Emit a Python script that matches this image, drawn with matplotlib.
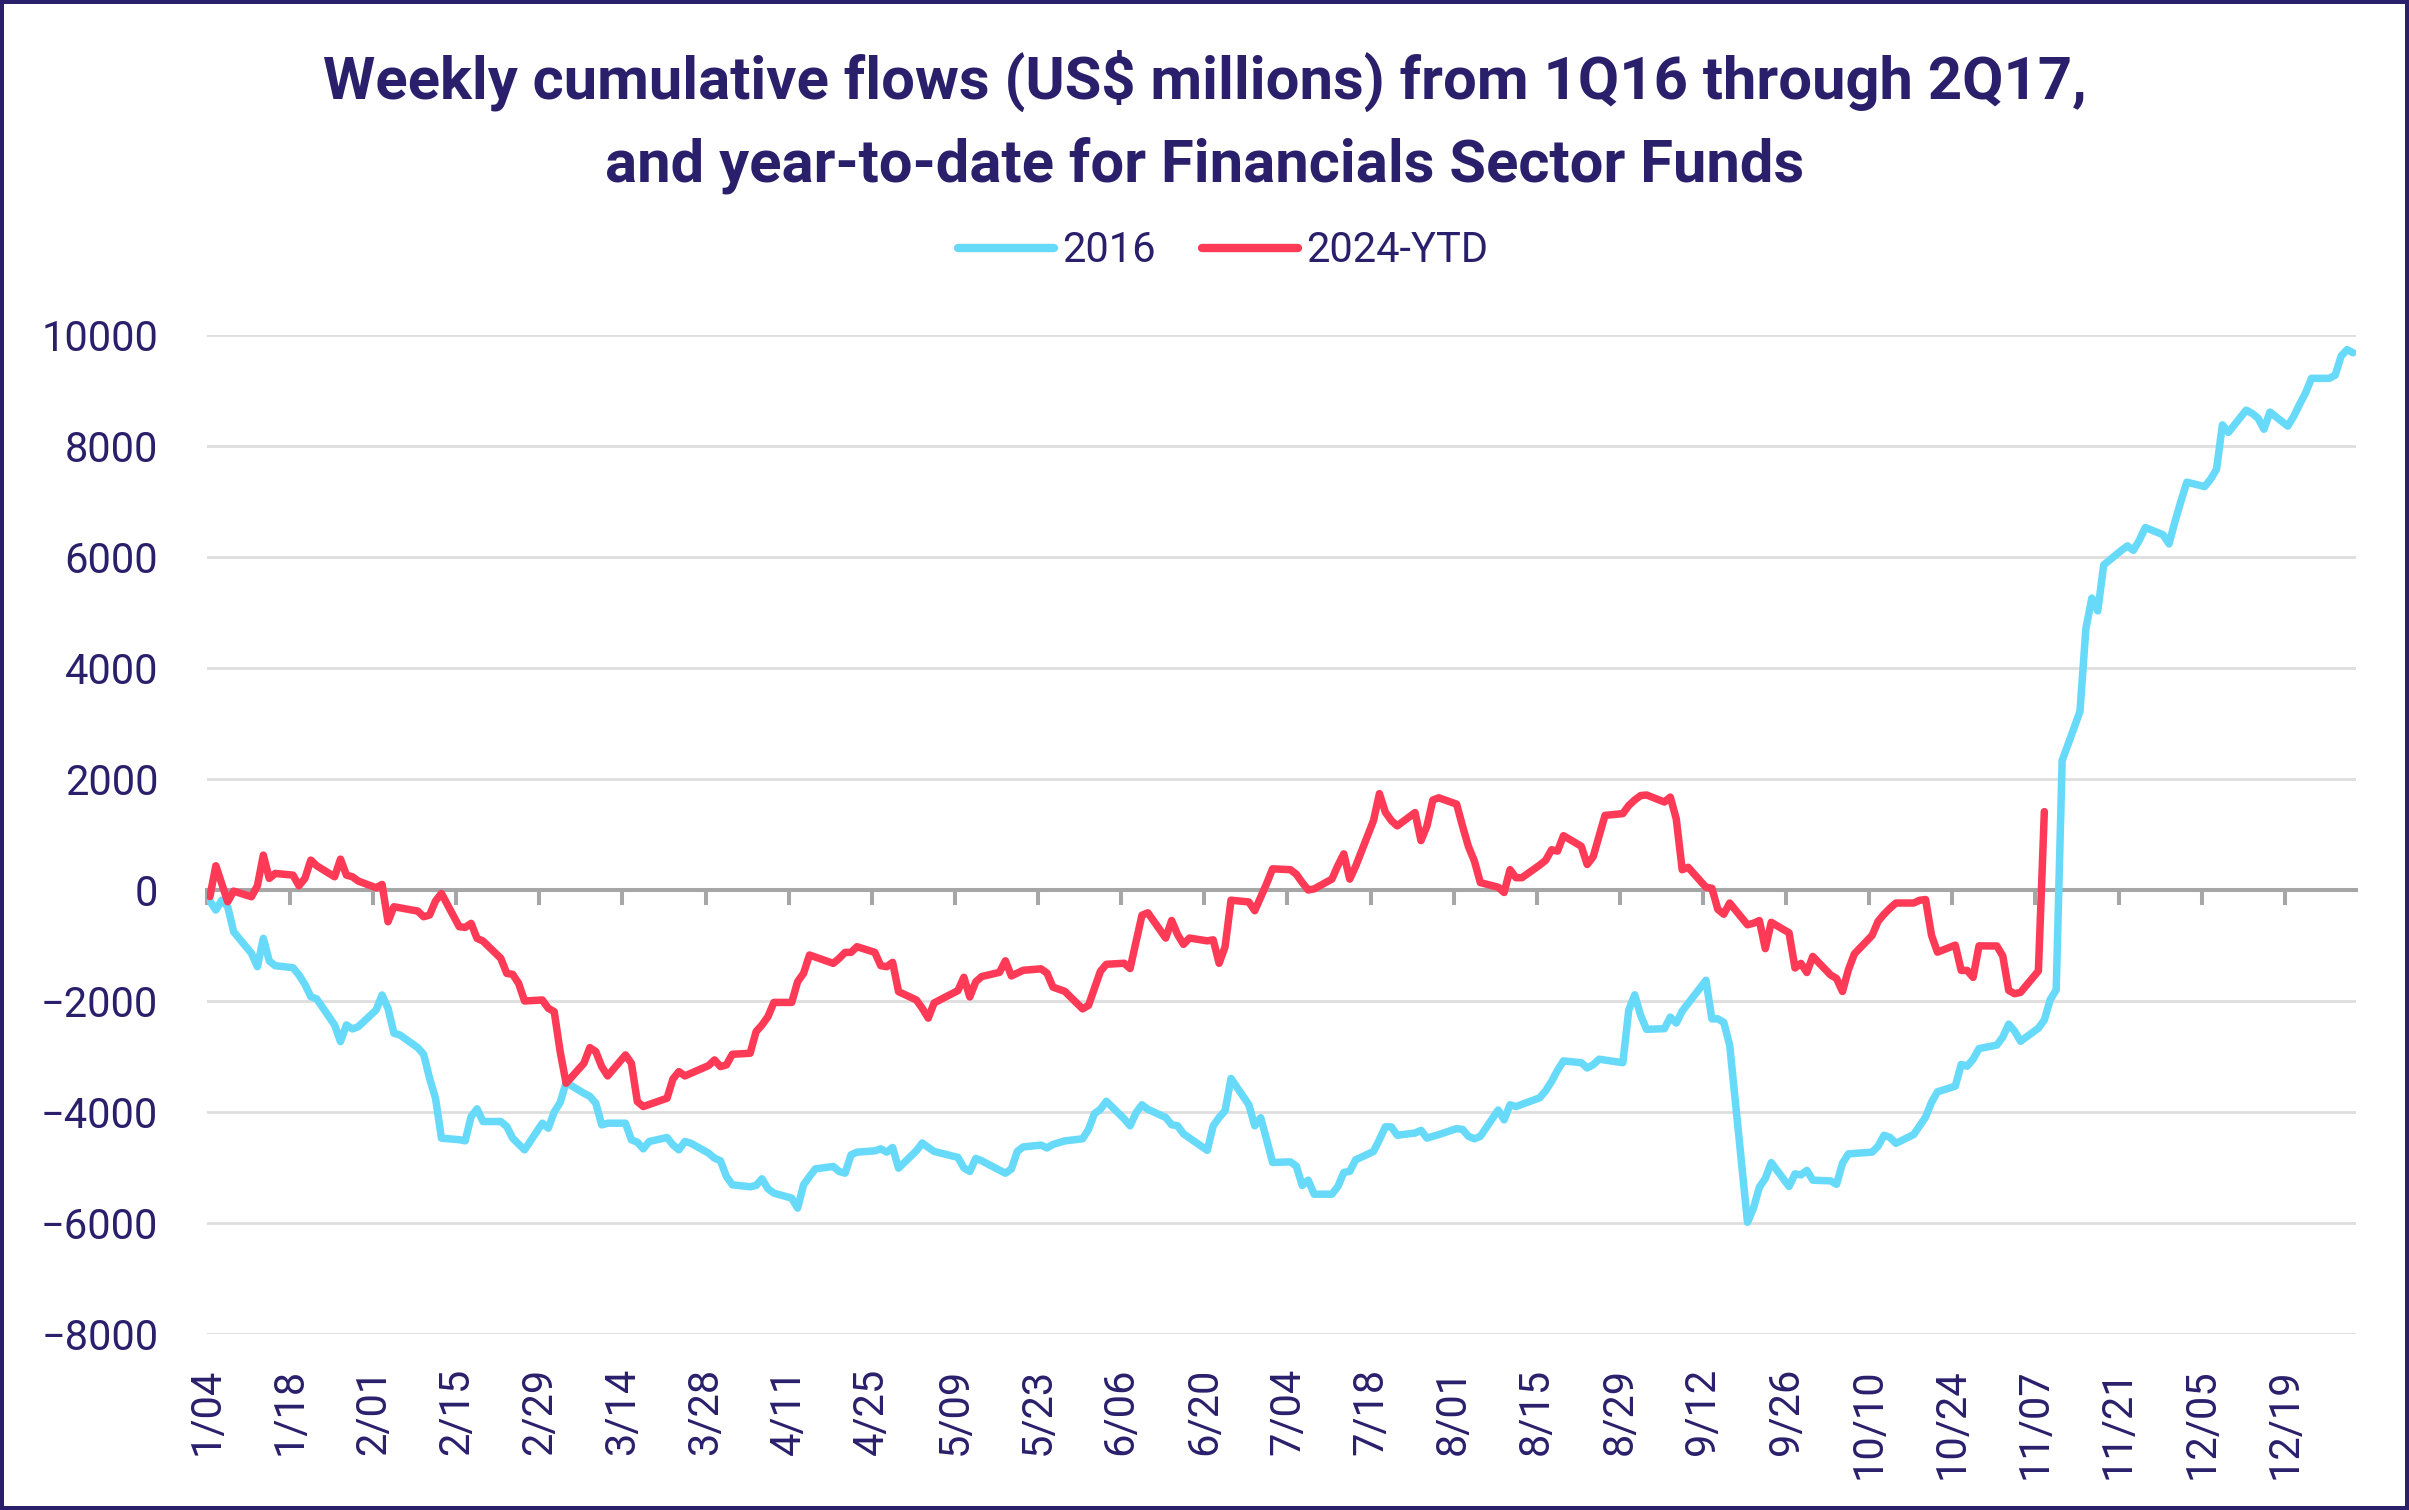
import matplotlib
matplotlib.use("Agg")
import matplotlib.pyplot as plt
import pandas as pd

plt.rcParams["font.family"] = ["Roboto", "DejaVu Sans"]

NAVY = "#2A1F6B"
BLUE = "#67DAF9"
RED = "#FF3A56"
AXIS_GREY = "#A6A6A6"
GRID_GREY = "#DEDEDE"

# === Data ===
tick_labels = ["1/04", "1/18", "2/01", "2/15", "2/29", "3/14", "3/28", "4/11", "4/25",
               "5/09", "5/23", "6/06", "6/20", "7/04", "7/18", "8/01", "8/15", "8/29",
               "9/12", "9/26", "10/10", "10/24", "11/07", "11/21", "12/05", "12/19"]
y_ticks = [-8000, -6000, -4000, -2000, 0, 2000, 4000, 6000, 8000, 10000]

# 2016 (one line per month)
dates_2016 = [
    "1/04", "1/05", "1/06", "1/07", "1/08", "1/11", "1/12", "1/13", "1/14", "1/15", "1/18", "1/19", "1/20", "1/21", "1/22", "1/25", "1/26", "1/27", "1/28", "1/29",
    "2/01", "2/02", "2/03", "2/04", "2/05", "2/08", "2/09", "2/10", "2/11", "2/12", "2/15", "2/16", "2/17", "2/18", "2/19", "2/22", "2/23", "2/24", "2/25", "2/26", "2/29",
    "3/01", "3/02", "3/03", "3/04", "3/07", "3/08", "3/09", "3/10", "3/11", "3/14", "3/15", "3/16", "3/17", "3/18", "3/21", "3/22", "3/23", "3/24", "3/25", "3/28", "3/29", "3/30", "3/31",
    "4/01", "4/04", "4/05", "4/06", "4/07", "4/08", "4/11", "4/12", "4/13", "4/14", "4/15", "4/18", "4/19", "4/20", "4/21", "4/22", "4/25", "4/26", "4/27", "4/28", "4/29",
    "5/02", "5/03", "5/04", "5/05", "5/09", "5/10", "5/11", "5/12", "5/13", "5/16", "5/17", "5/18", "5/19", "5/20", "5/23", "5/24", "5/25", "5/27", "5/30", "5/31",
    "6/01", "6/02", "6/03", "6/06", "6/07", "6/08", "6/09", "6/10", "6/13", "6/14", "6/15", "6/16", "6/20", "6/21", "6/22", "6/23", "6/24", "6/27", "6/28", "6/29", "6/30",
    "7/01", "7/04", "7/05", "7/06", "7/07", "7/08", "7/11", "7/12", "7/13", "7/14", "7/15", "7/18", "7/19", "7/20", "7/21", "7/22", "7/25", "7/26", "7/27", "7/28", "7/29",
    "8/01", "8/02", "8/03", "8/04", "8/05", "8/08", "8/09", "8/10", "8/11", "8/15", "8/16", "8/17", "8/18", "8/19", "8/22", "8/23", "8/24", "8/25", "8/29", "8/30", "8/31",
    "9/01", "9/02", "9/05", "9/06", "9/07", "9/08", "9/12", "9/13", "9/14", "9/15", "9/16", "9/19", "9/20", "9/21", "9/22", "9/23", "9/26", "9/27", "9/28", "9/29", "9/30",
    "10/03", "10/04", "10/05", "10/06", "10/10", "10/11", "10/12", "10/13", "10/14", "10/17", "10/18", "10/19", "10/20", "10/21", "10/24", "10/25", "10/26", "10/27", "10/28", "10/31",
    "11/01", "11/02", "11/03", "11/04", "11/07", "11/08", "11/09", "11/10", "11/11", "11/14", "11/15", "11/16", "11/17", "11/18", "11/21", "11/22", "11/23", "11/24", "11/25", "11/28", "11/29", "11/30",
    "12/01", "12/02", "12/05", "12/06", "12/07", "12/08", "12/09", "12/12", "12/13", "12/14", "12/15", "12/16", "12/19", "12/20", "12/21", "12/22", "12/23", "12/26", "12/27", "12/28", "12/29", "12/30",
]
flows_2016 = [
    -200, -363, -183, -303, -753, -1143, -1383, -873, -1281, -1365, -1401, -1533, -1700, -1923, -1965, -2433, -2733, -2433, -2505, -2463,
    -2163, -1893, -2133, -2583, -2613, -2841, -2961, -3393, -3753, -4473, -4500, -4521, -4083, -3945, -4173, -4173, -4263, -4473, -4580, -4683, -4203,
    -4293, -4000, -3830, -3470, -3663, -3720, -3843, -4233, -4203, -4203, -4503, -4545, -4665, -4533, -4461, -4593, -4683, -4533, -4563, -4743, -4833, -4881, -5163,
    -5313, -5349, -5325, -5205, -5385, -5463, -5553, -5733, -5313, -5163, -5025, -4983, -5073, -5103, -4773, -4725, -4701, -4665, -4725, -4641, -5013,
    -4700, -4560, -4640, -4712, -4819, -5009, -5072, -4838, -4880, -5050, -5104, -5028, -4712, -4630, -4598, -4649, -4586, -4522, -4484, -4314,
    -4029, -3953, -3808, -4124, -4251, -4017, -3871, -3953, -4100, -4231, -4250, -4395, -4692, -4250, -4100, -3978, -3397, -3871, -4250, -4105, -4500,
    -4910, -4900, -4976, -5324, -5229, -5482, -5482, -5343, -5090, -5071, -4863, -4712, -4500, -4269, -4269, -4420, -4380, -4332, -4471, -4440, -4408,
    -4301, -4314, -4440, -4484, -4440, -3966, -4143, -3871, -3903, -3745, -3619, -3450, -3250, -3081, -3113, -3208, -3150, -3050, -3113, -2165, -1890,
    -2260, -2512, -2500, -2291, -2399, -2184, -1628, -2323, -2323, -2386, -2797, -5988, -5735, -5356, -5198, -4913, -5343, -5116, -5135, -5053, -5230,
    -5242, -5305, -4926, -4756, -4724, -4616, -4420, -4459, -4566, -4407, -4250, -4092, -3826, -3637, -3536, -3144, -3176, -3049, -2859, -2796,
    -2651, -2417, -2544, -2727, -2491, -2342, -1975, -1802, 2330, 3214, 4707, 5258, 5028, 5855, 6119, 6199, 6119, 6300, 6530, 6400, 6234, 6635,
    7000, 7347, 7267, 7400, 7577, 8380, 8243, 8645, 8587, 8500, 8300, 8610, 8357, 8530, 8750, 8954, 9218, 9218, 9275, 9620, 9735, 9678,
]

# 2024 year-to-date, laid on the same calendar
dates_2024 = [
    "1/04", "1/05", "1/07", "1/08", "1/11", "1/12", "1/13", "1/14", "1/15", "1/18", "1/19", "1/20", "1/21", "1/22", "1/25", "1/26", "1/27", "1/28", "1/29",
    "2/01", "2/02", "2/03", "2/04", "2/08", "2/09", "2/10", "2/11", "2/12", "2/15", "2/16", "2/17", "2/18", "2/19", "2/22", "2/23", "2/24", "2/25", "2/26", "2/29",
    "3/01", "3/02", "3/03", "3/04", "3/07", "3/08", "3/09", "3/10", "3/11", "3/14", "3/15", "3/16", "3/17", "3/21", "3/22", "3/23", "3/24", "3/28", "3/29", "3/30", "3/31",
    "4/01", "4/04", "4/05", "4/06", "4/07", "4/08", "4/11", "4/12", "4/13", "4/14", "4/18", "4/19", "4/20", "4/21", "4/22", "4/25", "4/26", "4/27", "4/28", "4/29",
    "5/02", "5/03", "5/04", "5/05", "5/09", "5/10", "5/11", "5/12", "5/13", "5/16", "5/17", "5/18", "5/20", "5/23", "5/24", "5/25", "5/27", "5/30", "5/31",
    "6/02", "6/03", "6/06", "6/07", "6/09", "6/10", "6/13", "6/14", "6/15", "6/16", "6/17", "6/20", "6/21", "6/22", "6/23", "6/24", "6/27", "6/28", "6/30",
    "7/01", "7/04", "7/05", "7/06", "7/07", "7/08", "7/11", "7/12", "7/13", "7/14", "7/15", "7/18", "7/19", "7/20", "7/21", "7/22", "7/25", "7/26", "7/27", "7/28", "7/29",
    "8/01", "8/02", "8/03", "8/04", "8/05", "8/08", "8/09", "8/10", "8/11", "8/12", "8/15", "8/16", "8/17", "8/18", "8/19", "8/22", "8/23", "8/24", "8/26", "8/29", "8/30", "8/31",
    "9/01", "9/02", "9/05", "9/06", "9/07", "9/08", "9/09", "9/12", "9/13", "9/14", "9/15", "9/16", "9/19", "9/20", "9/21", "9/22", "9/23", "9/26", "9/27", "9/28", "9/29", "9/30",
    "10/03", "10/04", "10/05", "10/06", "10/07", "10/10", "10/11", "10/12", "10/13", "10/14", "10/17", "10/18", "10/19", "10/20", "10/21", "10/24", "10/25", "10/26", "10/27", "10/28", "10/31",
    "11/01", "11/02", "11/03", "11/04", "11/07", "11/08",
]
flows_2024 = [
    -120, 435, -213, -21, -123, 75, 627, 207, 297, 267, 75, 207, 537, 435, 237, 555, 267, 237, 159,
    39, 99, -573, -303, -381, -483, -453, -201, -63, -663, -675, -603, -873, -921, -1233, -1503, -1521, -1683, -2001, -1983,
    -2133, -2193, -2913, -3483, -3123, -2841, -2913, -3183, -3351, -2973, -3123, -3813, -3903, -3753, -3405, -3273, -3351, -3165, -3063, -3183, -3153,
    -2961, -2943, -2553, -2433, -2283, -2027, -2027, -1653, -1503, -1173, -1323, -1233, -1125, -1125, -1023, -1125, -1365, -1383, -1305, -1833,
    -1983, -2133, -2310, -2035, -1814, -1574, -1928, -1656, -1561, -1485, -1277, -1549, -1448, -1422, -1498, -1751, -1827, -2143, -2080,
    -1467, -1340, -1321, -1416, -456, -412, -867, -551, -804, -981, -867, -918, -899, -1322, -1025, -185, -217, -375, 113,
    380, 365, 283, 132, -1, 18, 195, 440, 650, 195, 427, 1249, 1735, 1400, 1250, 1154, 1394, 888, 1150, 1620, 1660,
    1546, 1150, 780, 520, 132, 49, -46, 365, 220, 220, 448, 534, 724, 699, 977, 787, 458, 597, 1343, 1375, 1521, 1620,
    1700, 1711, 1584, 1673, 1280, 364, 408, 49, 30, -349, -438, -236, -628, -600, -552, -1058, -584, -773, -1406, -1324, -1488, -1198,
    -1533, -1596, -1830, -1438, -1153, -818, -565, -438, -330, -236, -236, -186, -173, -818, -1121, -995, -1450, -1450, -1576, -1008, -1010,
    -1190, -1810, -1870, -1845, -1460, 1410,
]

assert len(dates_2016) == len(flows_2016)
assert len(dates_2024) == len(flows_2024)

# === Date axis: calendar days from 1/04, points sit mid-day ===
start = pd.Timestamp("2016-01-04")


def day_pos(labels):
    d = pd.to_datetime(["2016/" + s for s in labels], format="%Y/%m/%d")
    return (d - start).days.to_numpy().astype(float)


x_2016 = day_pos(dates_2016) + 0.5
x_2024 = day_pos(dates_2024) + 0.5
x_ticks = day_pos(tick_labels)

# === Figure ===
fig = plt.figure(figsize=(24.09, 15.10), dpi=100, linewidth=4.5, edgecolor=NAVY)
ax = fig.add_axes([0.0859, 0.1166, 0.8921, 0.6616])

ax.plot(x_2016, flows_2016, color=BLUE, lw=5.4, label="2016", zorder=3,
        solid_joinstyle="round", solid_capstyle="round")
ax.plot(x_2024, flows_2024, color=RED, lw=5.4, label="2024-YTD", zorder=4,
        solid_joinstyle="round", solid_capstyle="round")

ax.set_xlim(0, 362)
ax.set_ylim(-8000, 10000)

# y axis + grid
ax.set_yticks(y_ticks)
ax.yaxis.grid(True, color=GRID_GREY, lw=2.0)
ax.set_axisbelow(True)
ax.tick_params(axis="y", length=0, pad=35, labelsize=30, labelcolor=NAVY)

for side in ["left", "right", "top"]:
    ax.spines[side].set_visible(False)

# zero line with tick marks
ax.spines["bottom"].set_position(("data", 0))
ax.spines["bottom"].set_color(AXIS_GREY)
ax.spines["bottom"].set_linewidth(2.9)
ax.spines["bottom"].set_zorder(2.6)
ax.set_xticks(x_ticks)
ax.tick_params(axis="x", length=11, width=2.9, color=AXIS_GREY, direction="out",
               labelbottom=False)

# date labels below the plot
sec = ax.secondary_xaxis("bottom")
sec.set_xticks(x_ticks, labels=tick_labels, rotation=90)
sec.tick_params(length=0, pad=24.5, labelsize=30, labelcolor=NAVY)
sec.spines["bottom"].set_visible(False)

# === Title & legend ===
fig.text(0.5, 1 - 99 / 1510, "Weekly cumulative flows (US$ millions) from 1Q16 through 2Q17,",
         ha="center", va="baseline", fontsize=43, fontweight="bold", color=NAVY)
fig.text(0.5, 1 - 182 / 1510, "and year-to-date for Financials Sector Funds",
         ha="center", va="baseline", fontsize=43, fontweight="bold", color=NAVY)

leg = fig.legend(loc="center", bbox_to_anchor=(0.5077, 0.8338), ncol=2, frameon=False,
                 fontsize=30, handlelength=2.3, handletextpad=0.2, columnspacing=1.1,
                 labelcolor=NAVY)
for h in leg.get_lines():
    h.set_linewidth(6.0)
    h.set_solid_capstyle("round")

fig.savefig("out.png", dpi=100)
